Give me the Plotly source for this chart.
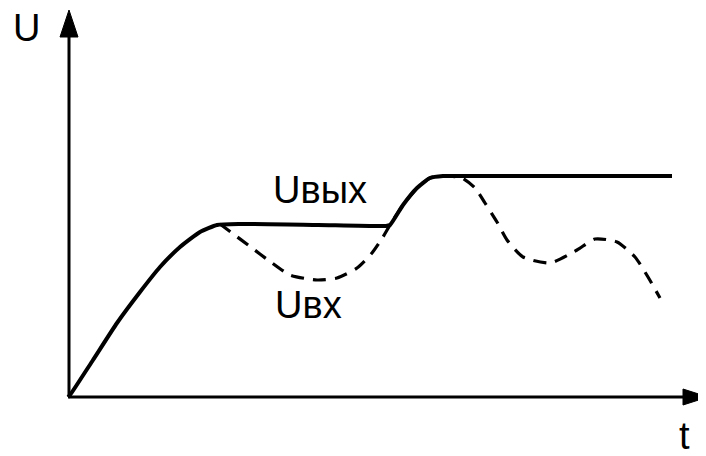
import plotly.graph_objects as go

# Output voltage (solid) — t, U in chart units (origin at axes corner)
t_out = [0, 2, 25, 49, 72, 92, 112, 132, 149, 172, 250, 318, 322, 335, 349, 362, 375, 390, 450, 604]
u_out = [0, 2, 37, 74, 105, 130, 150, 165, 172, 173, 172, 171, 172, 192, 209, 219, 221, 221, 221, 221]

# Input voltage (dashed)
t_in = [152, 160, 184, 200, 222, 249, 269, 289, 304, 315, 322, 335, 349, 362, 375, 394, 407, 417, 429, 439, 455, 482, 509, 527, 549, 567, 580, 592]
u_in = [173, 167, 149, 137, 122, 117, 119, 129, 144, 160, 172, 192, 209, 219, 221, 219, 209, 194, 175, 157, 140, 134, 147, 158, 155, 140, 120, 99]

labels = {"U": (-42, 369), "t": (616, -39), "Uвых": (252, 207), "Uвх": (240, 92)}

fig = go.Figure()
fig.add_trace(go.Scatter(x=t_in, y=u_in, mode="lines",
                         line=dict(color="black", width=3.2, dash="13px,9px", shape="spline", smoothing=0.6),
                         hoverinfo="skip"))
fig.add_trace(go.Scatter(x=t_out, y=u_out, mode="lines",
                         line=dict(color="black", width=4, shape="spline", smoothing=0.5),
                         hoverinfo="skip"))

# axes with arrows
fig.add_shape(type="line", x0=1, y0=0, x1=1, y1=365, line=dict(color="black", width=3))
fig.add_shape(type="line", x0=0, y0=0, x1=620, y1=0, line=dict(color="black", width=3))
fig.add_shape(type="path", path="M -8,360 L 10,360 L 1,387 Z", fillcolor="black", line=dict(color="black", width=1))
fig.add_shape(type="path", path="M 615,8 L 615,-8 L 640,0 Z", fillcolor="black", line=dict(color="black", width=1))

for txt, (x, y) in labels.items():
    fig.add_annotation(x=x, y=y, text=txt, showarrow=False,
                       font=dict(family="Liberation Sans, Arial", size=38, color="black"),
                       xanchor="center", yanchor="middle")

# page body has an 8px margin, so the figure is 8px smaller and shifted
fig.update_layout(width=698, height=448, margin=dict(l=0, r=0, t=0, b=0),
                  paper_bgcolor="white", plot_bgcolor="white", showlegend=False,
                  xaxis=dict(range=[-60, 638], visible=False, fixedrange=True),
                  yaxis=dict(range=[-59, 389], visible=False, fixedrange=True))
fig.write_html("out.html", config={"displayModeBar": False})
